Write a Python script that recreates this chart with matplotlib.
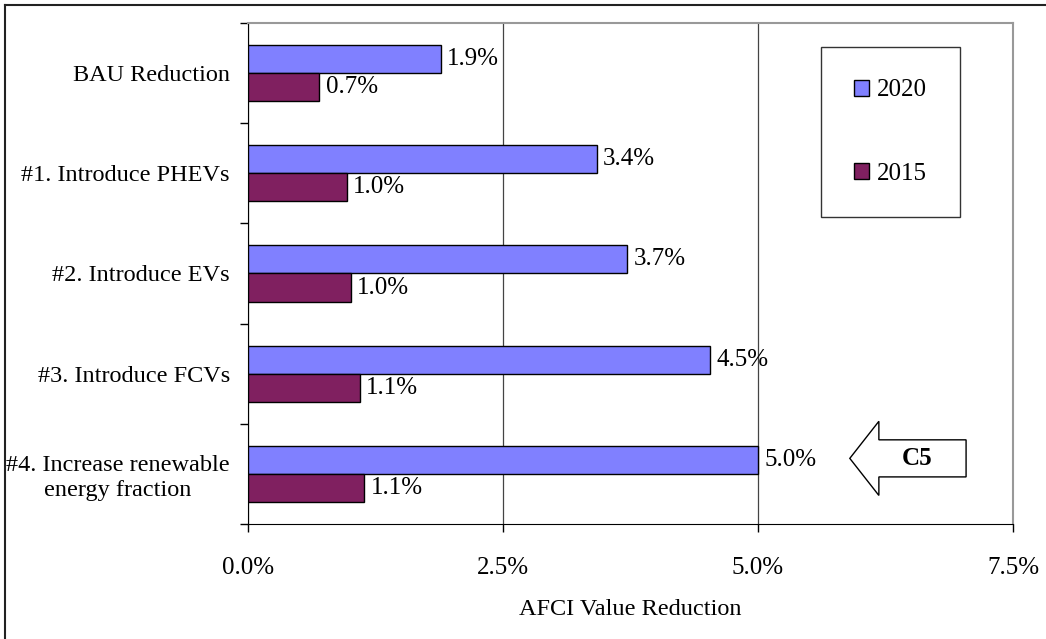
import matplotlib
matplotlib.use('Agg')
import matplotlib.pyplot as plt
from matplotlib.patches import FancyArrow
from matplotlib.lines import Line2D
import numpy as np

categories = ['BAU Reduction', '#1. Introduce PHEVs', '#2. Introduce EVs',
              '#3. Introduce FCVs', '#4. Increase renewable\nenergy fraction']
vals_2020 = [1.89, 3.42, 3.72, 4.53, 5.0]
vals_2015 = [0.70, 0.97, 1.01, 1.10, 1.14]
xticks = [0.0, 2.5, 5.0, 7.5]

plt.rcParams['font.family'] = ['Liberation Serif', 'DejaVu Serif']
plt.rcParams['font.size'] = 17.5
NUM_FS = 18

fig = plt.figure(figsize=(10.46, 6.39), dpi=100)
ax = fig.add_axes([248 / 1046, 1 - 524 / 639, (1013 - 248) / 1046, (524 - 23) / 639])

# outer frame (only top and left edges are visible in the picture)
fig.add_artist(Line2D([4.5 / 1046, 1], [1 - 4.5 / 639] * 2, color='#222222', lw=1.5))
fig.add_artist(Line2D([4.5 / 1046] * 2, [0, 1 - 4.5 / 639], color='#222222', lw=1.5))

y = np.arange(len(categories))
h = 0.28
ax.barh(y - h / 2, vals_2020, height=h, color='#8080FF', edgecolor='black', lw=1, label='2020', zorder=3)
ax.barh(y + h / 2, vals_2015, height=h, color='#802060', edgecolor='black', lw=1, label='2015', zorder=3)

for i in range(len(categories)):
    ax.text(vals_2020[i] + 0.06, y[i] - h / 2, '%.1f%%' % vals_2020[i], va='center', ha='left', fontsize=NUM_FS)
    ax.text(vals_2015[i] + 0.06, y[i] + h / 2, '%.1f%%' % vals_2015[i], va='center', ha='left', fontsize=NUM_FS)

ax.set_xlim(0, 7.5)
ax.set_ylim(len(categories) - 0.5, -0.5)
ax.set_xticks(xticks)
ax.set_xticklabels(['%.1f%%' % v for v in xticks], fontsize=NUM_FS)
ax.set_yticks(y)
ax.set_yticklabels(categories)
ax.set_yticks(np.arange(-0.5, len(categories)), minor=True)
ax.tick_params(axis='y', which='major', length=0, pad=13)
ax.tick_params(axis='y', which='minor', length=6, direction='out', width=1)
ax.tick_params(axis='x', length=6, direction='out', width=1, pad=17.5)
for lbl in ax.get_yticklabels():
    lbl.set_multialignment('center')

ax.xaxis.grid(True, color='#444444', lw=0.9, zorder=0)
ax.set_axisbelow(True)
ax.spines['left'].set_color('black')
ax.spines['bottom'].set_color('black')
ax.spines['top'].set_color('#999999')
ax.spines['right'].set_color('#999999')
ax.spines['top'].set_linewidth(1.5)
ax.spines['right'].set_linewidth(1.5)

ax.set_xlabel('AFCI Value Reduction', labelpad=15)

leg = ax.legend(loc='upper left', bbox_to_anchor=((821 - 248) / 765, 1 - (47 - 23) / 501),
                frameon=True, fancybox=False, edgecolor='black', handlelength=0.6,
                handleheight=0.6, handletextpad=0.35, labelspacing=2.45, borderpad=1.3,
                borderaxespad=0, fontsize=NUM_FS)
leg.get_frame().set_linewidth(1)

# C5 arrow
arr = FancyArrow(7.04, 4.0 - 0.155, -0.855, 0, width=0.37, head_width=0.74, head_length=0.285,
                 length_includes_head=False, facecolor='white', edgecolor='black', lw=1, zorder=4)
ax.add_patch(arr)
ax.text(6.56, 4.0 - 0.155, 'C5', fontweight='bold', ha='center', va='center', fontsize=NUM_FS, zorder=5)

plt.savefig('out.png', dpi=100)
plt.close()
